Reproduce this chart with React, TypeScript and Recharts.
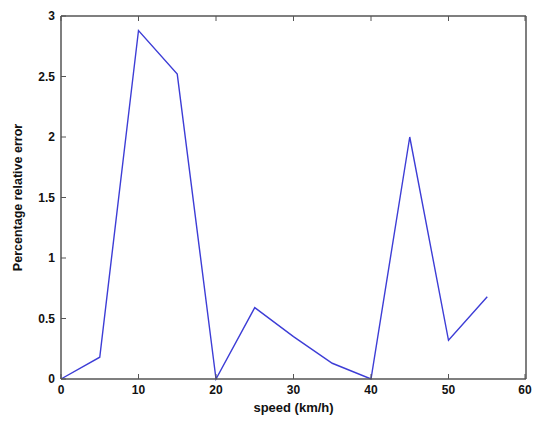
import React from 'react';
import { LineChart, Line, XAxis, YAxis, Label } from 'recharts';

// speed (km/h) and percentage relative error
const speeds = [0, 5, 10, 15, 20, 25, 30, 35, 40, 45, 50, 55];
const errors = [0, 0.18, 2.88, 2.52, 0, 0.59, 0.35, 0.13, 0, 2.0, 0.32, 0.68];
const xTicks = [0, 10, 20, 30, 40, 50, 60];
const yTicks = [0, 0.5, 1, 1.5, 2, 2.5, 3];

const data = speeds.map((s, i) => ({ speed: s, error: errors[i] }));

const axisColor = '#555';
const font = 'Liberation Sans, Arial, sans-serif';
const TICK = 5;
const GAP = 6;

// matlab style: tick marks point into the plot box
const BottomTick = (props: any) => {
  const { x, y, payload } = props;
  return (
    <g>
      <line x1={x} x2={x} y1={y - GAP} y2={y - GAP - TICK} stroke={axisColor} />
      <text x={x} y={y} dy="0.71em" textAnchor="middle" fontFamily={font} fontSize={12} fontWeight="bold" fill="#111">
        {payload.value}
      </text>
    </g>
  );
};

const LeftTick = (props: any) => {
  const { x, y, payload } = props;
  return (
    <g>
      <line x1={x + GAP} x2={x + GAP + TICK} y1={y} y2={y} stroke={axisColor} />
      <text x={x} y={y} dy="0.355em" textAnchor="end" fontFamily={font} fontSize={12} fontWeight="bold" fill="#111">
        {payload.value}
      </text>
    </g>
  );
};

const TopTick = (props: any) => {
  const { x, y } = props;
  return <line x1={x} x2={x} y1={y} y2={y + TICK} stroke={axisColor} />;
};

const RightTick = (props: any) => {
  const { x, y } = props;
  return <line x1={x} x2={x - TICK} y1={y} y2={y} stroke={axisColor} />;
};

const axisLine = { stroke: axisColor, strokeWidth: 1.5 };

export default function App() {
  return (
    <div style={{ position: 'absolute', left: 0, top: 0, background: '#fff' }}>
      <LineChart width={533} height={421} data={data} margin={{ top: 15, right: 6, left: 0, bottom: 0 }}>
        <XAxis
          dataKey="speed"
          type="number"
          domain={[0, 60]}
          ticks={xTicks}
          height={42}
          axisLine={axisLine}
          tickLine={false}
          tickSize={0}
          tickMargin={GAP}
          tick={<BottomTick />}
        >
          <Label
            value="speed (km/h)"
            position="insideBottom"
            offset={9}
            style={{ fontFamily: font, fontSize: 13, fontWeight: 'bold', fill: '#111' }}
          />
        </XAxis>
        <XAxis
          xAxisId="top"
          orientation="top"
          dataKey="speed"
          type="number"
          domain={[0, 60]}
          ticks={xTicks}
          height={1}
          axisLine={axisLine}
          tickLine={false}
          tickSize={0}
          tickMargin={0}
          tick={<TopTick />}
        />
        <YAxis
          type="number"
          domain={[0, 3]}
          ticks={yTicks}
          width={61}
          axisLine={axisLine}
          tickLine={false}
          tickSize={0}
          tickMargin={GAP}
          tick={<LeftTick />}
        >
          <Label
            value="Percentage relative error"
            angle={-90}
            position="insideLeft"
            offset={18}
            style={{ textAnchor: 'middle', fontFamily: font, fontSize: 12.5, fontWeight: 'bold', fill: '#111' }}
          />
        </YAxis>
        <YAxis
          yAxisId="right"
          orientation="right"
          type="number"
          domain={[0, 3]}
          ticks={yTicks}
          width={1}
          axisLine={axisLine}
          tickLine={false}
          tickSize={0}
          tickMargin={0}
          tick={<RightTick />}
        />
        <Line
          type="linear"
          dataKey="error"
          stroke="#3d3dd6"
          strokeWidth={1.4}
          dot={false}
          isAnimationActive={false}
        />
      </LineChart>
    </div>
  );
}
